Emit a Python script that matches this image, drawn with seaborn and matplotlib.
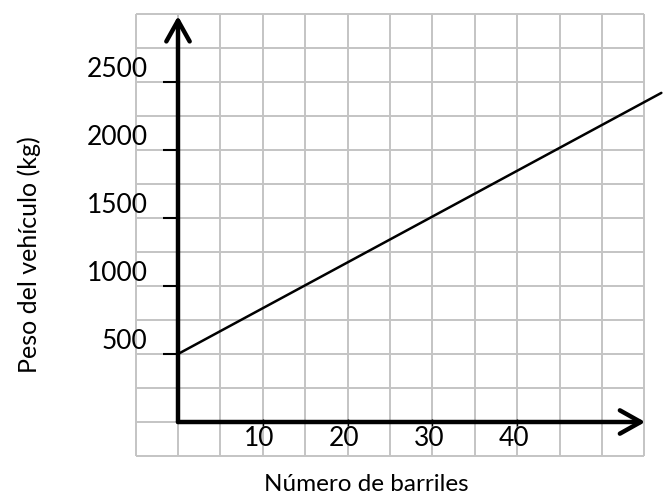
import numpy as np
import pandas as pd
import matplotlib
matplotlib.use("Agg")
import matplotlib.pyplot as plt
import seaborn as sns

# data
barriles = [0, 57]
peso = [500, 2420]
x_ticks = [10, 20, 30, 40]
y_ticks = [500, 1000, 1500, 2000, 2500]

df = pd.DataFrame({"barriles": barriles, "peso": peso})

sns.set_theme(style="white")
plt.rcParams['font.family'] = ['Lato', 'DejaVu Sans']

fig = plt.figure(figsize=(6.65, 5.0), dpi=100)
ax = fig.add_axes([0, 0, 1, 1])
# pixel mapping: x px = 178 + 8.48*b, y px = 422 - 0.136*kg
ax.set_xlim(-178 / 8.48, (665 - 178) / 8.48)
ax.set_ylim((422 - 500) / 0.136, 422 / 0.136)
ax.axis("off")

# squared paper grid (cells of 5 barrels x 250 kg)
grid_x = np.arange(-5, 56, 5)
grid_y = np.arange(-250, 3001, 250)
ax.vlines(grid_x, grid_y[0], grid_y[-1], color="#c4c4c4", lw=1.4, zorder=1)
ax.hlines(grid_y, grid_x[0], grid_x[-1], color="#c4c4c4", lw=1.4, zorder=1)

# axes with open arrow heads
arrow = dict(arrowstyle="->,head_length=0.75,head_width=0.42", lw=3.2,
             color="black", shrinkA=0, shrinkB=0, mutation_scale=20)
ax.annotate("", xy=(0, 2985), xytext=(0, 0), arrowprops=arrow, zorder=4)
ax.annotate("", xy=(55.1, 0), xytext=(0, 0), arrowprops=arrow, zorder=4)

# ticks
ax.hlines(y_ticks, -1.8, 0, color="black", lw=1.5, zorder=4)
ax.vlines(x_ticks, -30, 25, color="black", lw=1.0, zorder=4)

for v in y_ticks:
    ax.text(-3.6, v + 92, str(v), ha="right", va="center", fontsize=19, color="black")
for v in x_ticks:
    ax.text(v - 0.4, -125, str(v), ha="center", va="center", fontsize=19, color="black")

sns.lineplot(data=df, x="barriles", y="peso", color="black", lw=1.8, ax=ax, zorder=5)

ax.text(22.2, -462, "Número de barriles", ha="center", va="center", fontsize=17.5, color="black")
ax.text(-17.6, 1228, "Peso del vehículo (kg)", ha="center", va="center", rotation=90,
        fontsize=18, color="black")

fig.savefig("out.png", dpi=100)
